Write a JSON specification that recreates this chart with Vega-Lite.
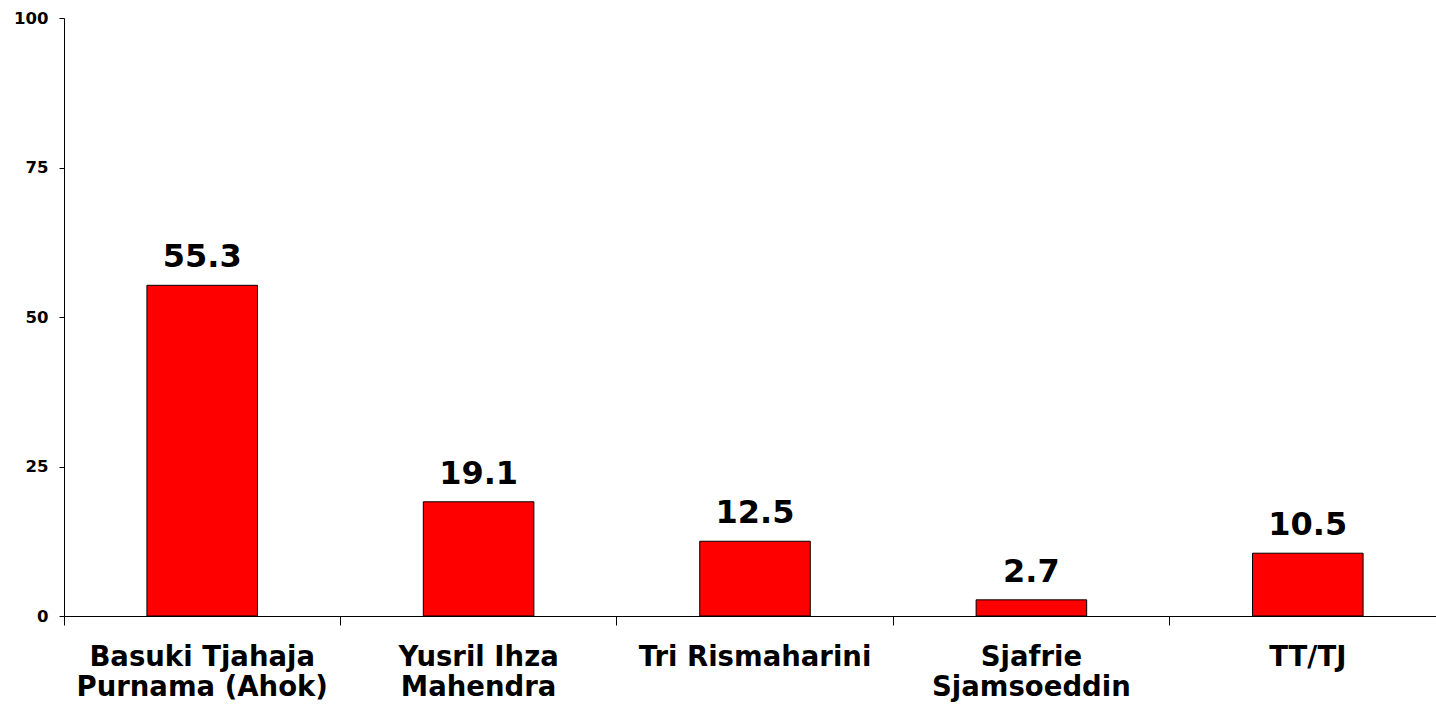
{
  "$schema": "https://vega.github.io/schema/vega-lite/v6.json",
  "autosize": {"type": "none"},
  "width": 1372,
  "height": 598,
  "padding": {"left": 64, "top": 18, "right": 0, "bottom": 96},
  "background": "white",
  "config": {"view": {"stroke": null}, "font": "DejaVu Sans"},
  "data": {"values": [
    {"name": "Basuki Tjahaja|Purnama (Ahok)", "value": 55.3},
    {"name": "Yusril Ihza|Mahendra", "value": 19.1},
    {"name": "Tri Rismaharini", "value": 12.5},
    {"name": "Sjafrie|Sjamsoeddin", "value": 2.7},
    {"name": "TT/TJ", "value": 10.5}
  ]},
  "encoding": {
    "x": {
      "field": "name", "type": "nominal", "sort": null,
      "scale": {"paddingInner": 0, "paddingOuter": 0, "range": [0, 1382]},
      "axis": {
        "title": null, "labelAngle": 0, "bandPosition": 0,
        "labelExpr": "split(datum.label, '|')",
        "labelFont": "DejaVu Sans", "labelFontWeight": "bold", "labelFontSize": 27.5,
        "labelColor": "black", "labelLineHeight": 30, "labelPadding": 18,
        "labelBaseline": "top", "labelBound": false, "labelOverlap": false,
        "labelAlign": "center", "labelFlush": false, "labelLimit": 0,
        "tickSize": 9, "tickColor": "black", "domainColor": "black",
        "tickWidth": 1, "domainWidth": 1, "grid": false
      }
    },
    "y": {
      "field": "value", "type": "quantitative",
      "scale": {"domain": [0, 100], "nice": false},
      "axis": {
        "title": null, "values": [0, 25, 50, 75, 100],
        "labelFont": "DejaVu Sans", "labelFontWeight": "bold", "labelFontSize": 16.5,
        "labelColor": "black", "labelPadding": 11, "tickSize": 5,
        "tickColor": "black", "domainColor": "black", "grid": false
      }
    }
  },
  "layer": [
    {"mark": {"type": "bar", "width": {"band": 0.4}, "color": "#ff0000", "stroke": "black", "strokeWidth": 1}},
    {"mark": {"type": "text", "baseline": "alphabetic", "dy": -18, "fontSize": 32, "fontWeight": "bold", "font": "DejaVu Sans", "color": "black"},
     "encoding": {"text": {"field": "value", "type": "quantitative", "format": ".1f"}}}
  ]
}
